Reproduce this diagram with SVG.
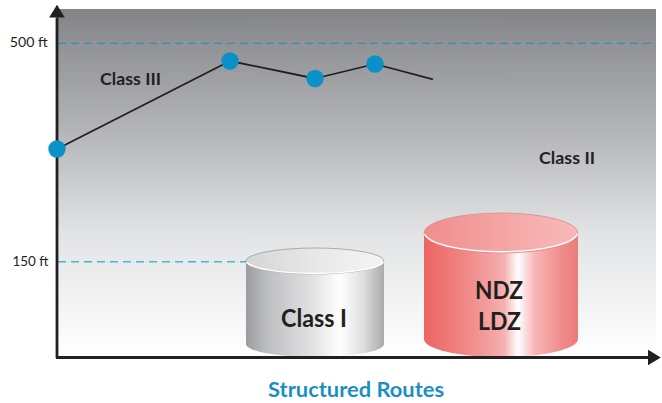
<svg xmlns="http://www.w3.org/2000/svg" width="662" height="403" viewBox="0 0 662 403">
  <defs>
    <linearGradient id="bg" x1="0" y1="0" x2="0" y2="1">
      <stop offset="0" stop-color="#838488"/>
      <stop offset="0.35" stop-color="#b4b5b8"/>
      <stop offset="0.65" stop-color="#e3e4e5"/>
      <stop offset="1" stop-color="#ffffff"/>
    </linearGradient>
    <linearGradient id="graySide" x1="0" y1="0" x2="1" y2="0">
      <stop offset="0" stop-color="#9b9c9f"/>
      <stop offset="0.15" stop-color="#bdbec0"/>
      <stop offset="0.5" stop-color="#e4e4e5"/>
      <stop offset="0.68" stop-color="#ffffff"/>
      <stop offset="0.85" stop-color="#dedede"/>
      <stop offset="1" stop-color="#a9aaac"/>
    </linearGradient>
    <linearGradient id="grayTop" x1="0" y1="0" x2="1" y2="0">
      <stop offset="0" stop-color="#d4d5d6"/>
      <stop offset="0.6" stop-color="#ebebec"/>
      <stop offset="1" stop-color="#f4f4f4"/>
    </linearGradient>
    <linearGradient id="redSide" x1="0" y1="0" x2="1" y2="0">
      <stop offset="0" stop-color="#ec6462"/>
      <stop offset="0.3" stop-color="#f08c8b"/>
      <stop offset="0.52" stop-color="#f5b0af"/>
      <stop offset="0.61" stop-color="#ffffff"/>
      <stop offset="0.72" stop-color="#f6b6b5"/>
      <stop offset="0.9" stop-color="#ef8b8a"/>
      <stop offset="1" stop-color="#ec7b7a"/>
    </linearGradient>
    <linearGradient id="redTop" x1="0" y1="0" x2="1" y2="0">
      <stop offset="0" stop-color="#f08e8d"/>
      <stop offset="0.6" stop-color="#f5aaa9"/>
      <stop offset="1" stop-color="#f7b9b8"/>
    </linearGradient>
    <marker id="arrow" viewBox="0 0 13 16" refX="0" refY="8" markerWidth="13" markerHeight="16" markerUnits="userSpaceOnUse" orient="auto">
      <path d="M0,0.2 L12.8,8 L0,15.8 Z" fill="#231f20"/>
    </marker>
    <style>
      .lbl { font-family: Lato, "Open Sans", "Liberation Sans", sans-serif; font-weight: bold; fill: #231f20; }
      .tick { font-family: Lato, "Liberation Sans", sans-serif; font-size: 13.5px; fill: #231f20; }
      .dash500 { stroke: #2f90b4; stroke-width: 1.2; stroke-dasharray: 8 5; fill: none; }
      .dash150 { stroke: #4eb2dc; stroke-width: 1.4; stroke-dasharray: 8 5; fill: none; }
      .axis { stroke: #231f20; stroke-width: 2.8; fill: none; }
      .dot { fill: #0a91c8; }
      .route { stroke: #231f20; stroke-width: 1.8; fill: none; }
    </style>
  </defs>

  <rect id="background" x="57" y="9" width="599" height="349" fill="url(#bg)"/>

  <g id="ref-lines">
    <line class="dash500" x1="58" y1="43.3" x2="656" y2="43.3"/>
    <line class="dash150" x1="58" y1="261.7" x2="247" y2="261.7"/>
    <text class="tick" x="47.7" y="47" text-anchor="end" textLength="38" lengthAdjust="spacingAndGlyphs">500 ft</text>
    <text class="tick" x="48.5" y="266" text-anchor="end" textLength="36" lengthAdjust="spacingAndGlyphs">150 ft</text>
  </g>

  <g id="class1">
    <path d="M246,261 L246,344 A69,13 0 0 0 384,344 L384,261 Z" fill="url(#graySide)"/>
    <ellipse cx="315" cy="261" rx="69" ry="13" fill="url(#grayTop)" stroke="#9a9b9d" stroke-width="0.8"/>
    <path d="M246.5,262 A69,13 0 0 0 383.5,262" fill="none" stroke="#ffffff" stroke-width="1.4"/>
    <text class="lbl" x="281" y="327" font-size="24" textLength="66" lengthAdjust="spacingAndGlyphs">Class I</text>
  </g>

  <g id="ndz-ldz">
    <path d="M424,233 L424,339 A77,18 0 0 0 578,339 L578,233 Z" fill="url(#redSide)"/>
    <ellipse cx="501" cy="233" rx="77" ry="20" fill="url(#redTop)" stroke="#d88c8b" stroke-width="0.8"/>
    <path d="M424.5,234 A77,20 0 0 0 577.5,234" fill="none" stroke="#ffffff" stroke-width="1.4"/>
    <text class="lbl" x="499" y="299" font-size="24" text-anchor="middle" textLength="48" lengthAdjust="spacingAndGlyphs">NDZ</text>
    <text class="lbl" x="499.5" y="330" font-size="24" text-anchor="middle" textLength="43" lengthAdjust="spacingAndGlyphs">LDZ</text>
  </g>

  <g id="axes">
    <line class="axis" x1="57" y1="358" x2="57" y2="17.5" marker-end="url(#arrow)"/>
    <line class="axis" x1="56" y1="357.5" x2="648" y2="357.5" marker-end="url(#arrow)"/>
  </g>

  <g id="connectors">
    <line class="route" x1="57" y1="149" x2="230" y2="61"/>
    <line class="route" x1="230" y1="61" x2="315" y2="78.5"/>
    <line class="route" x1="315" y1="78.5" x2="375" y2="64"/>
    <line class="route" x1="375" y1="64" x2="433" y2="79.3"/>
  </g>

  <g id="waypoint1"><circle class="dot" cx="57" cy="149" r="8.7"/></g>
  <g id="waypoint2"><circle class="dot" cx="230" cy="61" r="8.7"/></g>
  <g id="waypoint3"><circle class="dot" cx="315" cy="78.5" r="8.7"/></g>
  <g id="waypoint4"><circle class="dot" cx="375" cy="64" r="8.7"/></g>

  <g id="class3"><text class="lbl" x="100" y="84.5" font-size="17" textLength="61" lengthAdjust="spacingAndGlyphs">Class III</text></g>
  <g id="class2"><text class="lbl" x="539" y="164" font-size="17" textLength="56" lengthAdjust="spacingAndGlyphs">Class II</text></g>

  <g id="title"><text class="lbl" x="268" y="397" font-size="20" textLength="176" lengthAdjust="spacingAndGlyphs" style="fill:#1b8fc3">Structured Routes</text></g>
</svg>
